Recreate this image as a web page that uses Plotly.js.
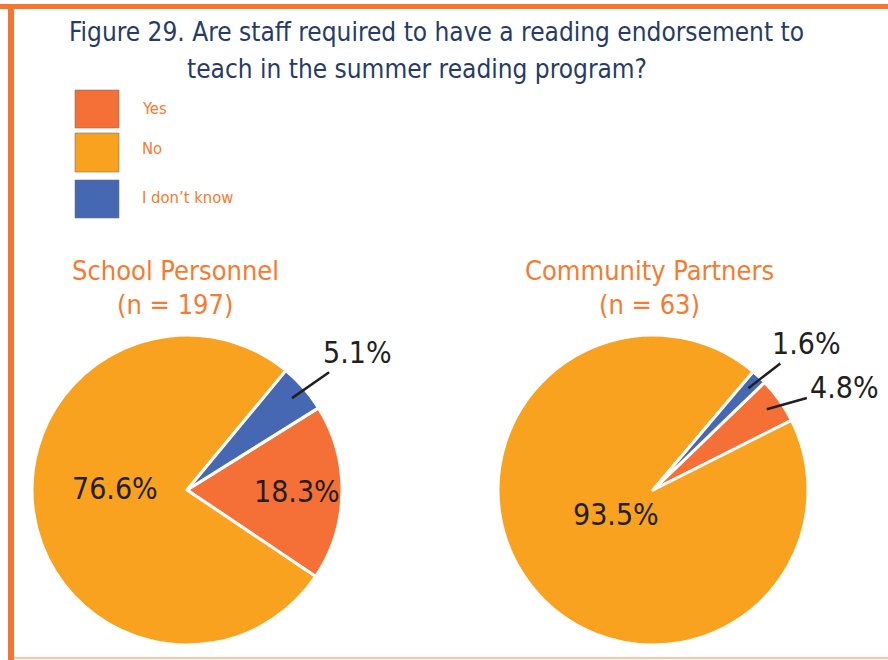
<!DOCTYPE html>
<html>
<head>
<meta charset="utf-8">
<script src="https://cdn.plot.ly/plotly-3.0.1.min.js"></script>
<style>html,body{margin:0;padding:0;background:#fff;}#chart{width:888px;height:660px;}</style>
</head>
<body>
<div id="chart"></div>
<script>
// ---- data ----
const categories = ['Yes', 'No', 'I don\u2019t know'];
const schoolValues = [18.3, 76.6, 5.1];
const communityValues = [4.8, 93.5, 1.6];
const groupTitles = ['School Personnel', 'Community Partners'];
const groupCounts = ['(n = 197)', '(n = 63)'];
const titleLines = ['Figure 29. Are staff required to have a reading endorsement to', 'teach in the summer reading program?'];

// ---- style ----
const W = 888, H = 660;
const colors = ['#F47036', '#F8A21F', '#4667B1'];
const FONT = '"Liberation Sans Narrow", "DejaVu Sans Condensed", "Arial Narrow", sans-serif';
const orange = '#F4762F';
const navy = '#263C66';
const px = x => x / W;
const py = y => (H - y) / H;

const pies = [
  {values: schoolValues, box: [32, 335, 342, 645], rotation: 58,
   labels: [{f: 0.71}, {f: 0.47, dy: -12}, {f: 0.9, ax: 66, ay: -46}]},
  {values: communityValues, box: [498, 335, 808, 645], rotation: 46,
   labels: [{f: 0.9, ax: 78, ay: -22}, {f: 0.3, dy: -4}, {f: 0.9, ax: 58, ay: -45}]}
];

const data = [];
const annotations = [];
const shapes = [];

pies.forEach((p, k) => {
  const [x0, y0, x1, y1] = p.box;
  data.push({
    type: 'pie', labels: categories, values: p.values, sort: false,
    direction: 'clockwise', rotation: p.rotation,
    marker: {colors: colors, line: {color: '#ffffff', width: 3}},
    textinfo: 'none', hoverinfo: 'label+value', showlegend: false,
    domain: {x: [px(x0), px(x1)], y: [py(y1), py(y0)]}
  });
  const cx = (x0 + x1) / 2, cy = (y0 + y1) / 2, r = Math.min(x1 - x0, y1 - y0) / 2;
  const total = p.values.reduce((a, b) => a + b, 0);
  let cum = 0;
  p.values.forEach((v, i) => {
    const mid = (p.rotation + (cum + v / 2) / total * 360) * Math.PI / 180;
    cum += v;
    const L = p.labels[i];
    const tx = cx + L.f * r * Math.sin(mid), ty = cy - L.f * r * Math.cos(mid) + (L.dy || 0);
    const txt = v.toFixed(1) + '%';
    const fnt = {family: FONT, size: 30, color: '#231F20'};
    if (L.ax === undefined) {
      annotations.push({xref: 'paper', yref: 'paper', x: px(tx), y: py(ty), text: txt,
        showarrow: false, font: fnt, xanchor: 'center', yanchor: 'middle'});
    } else {
      annotations.push({xref: 'paper', yref: 'paper', x: px(tx), y: py(ty), text: txt,
        showarrow: true, arrowhead: 0, arrowwidth: 2.5, arrowcolor: '#231F20',
        ax: L.ax, ay: L.ay, standoff: 0, startstandoff: 2, font: fnt});
    }
  });
  annotations.push({xref: 'paper', yref: 'paper', x: px([175, 649][k]), y: py(270),
    text: groupTitles[k], showarrow: false, font: {family: FONT, size: 27, color: '#F47B2F'},
    xanchor: 'center', yanchor: 'middle'});
  annotations.push({xref: 'paper', yref: 'paper', x: px([175, 649][k]), y: py(304),
    text: groupCounts[k], showarrow: false, font: {family: FONT, size: 27, color: '#F47B2F'},
    xanchor: 'center', yanchor: 'middle'});
});

// title
annotations.push({xref: 'paper', yref: 'paper', x: px(67), y: py(32), text: titleLines[0],
  showarrow: false, xanchor: 'left', yanchor: 'middle', font: {family: FONT, size: 26, color: navy}});
annotations.push({xref: 'paper', yref: 'paper', x: px(185), y: py(69), text: titleLines[1],
  showarrow: false, xanchor: 'left', yanchor: 'middle', font: {family: FONT, size: 26, color: navy}});

// legend
const legendRows = [[90, 128], [133, 172], [180, 218]];
categories.forEach((c, i) => {
  const [t, b] = legendRows[i];
  shapes.push({type: 'rect', xref: 'paper', yref: 'paper', x0: px(75), x1: px(119), y0: py(b), y1: py(t),
    fillcolor: colors[i], line: {color: 'rgba(110,110,110,0.55)', width: 1}});
  annotations.push({xref: 'paper', yref: 'paper', x: px(140), y: py([108, 149, 197][i]), text: c,
    showarrow: false, xanchor: 'left', yanchor: 'middle', font: {family: FONT, size: 16.5, color: '#F47B2F'}});
});

// frame
shapes.push({type: 'rect', xref: 'paper', yref: 'paper', x0: 0, x1: 1, y0: py(9), y1: py(4), fillcolor: orange, line: {width: 0}});
shapes.push({type: 'rect', xref: 'paper', yref: 'paper', x0: px(8), x1: px(14), y0: py(660), y1: py(4), fillcolor: orange, line: {width: 0}});
shapes.push({type: 'rect', xref: 'paper', yref: 'paper', x0: px(14), x1: 1, y0: py(659), y1: py(657), fillcolor: '#F9C6A6', line: {width: 0}});

const layout = {
  width: W, height: H, margin: {l: 0, r: 0, t: 0, b: 0},
  paper_bgcolor: '#ffffff', plot_bgcolor: '#ffffff',
  showlegend: false, annotations: annotations, shapes: shapes,
  font: {family: FONT}
};
Plotly.newPlot('chart', data, layout, {displayModeBar: false, staticPlot: true});
</script>
</body>
</html>
